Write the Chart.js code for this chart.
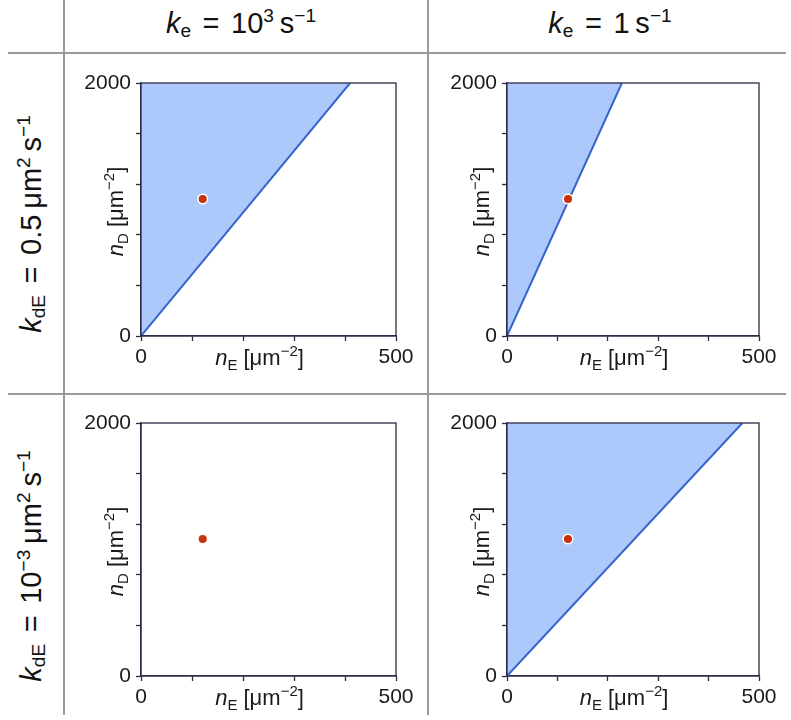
<!DOCTYPE html>
<html>
<head>
<meta charset="utf-8">
<script src="https://cdn.jsdelivr.net/npm/chart.js@4/dist/chart.umd.min.js"></script>
<style>
  html, body { margin: 0; padding: 0; background: #fff; }
  body { width: 791px; height: 720px; position: relative; overflow: hidden; font-family: "Liberation Sans", Arial, sans-serif; }
  .hl { position: absolute; height: 2px; background: #9a9a9a; }
  .vl { position: absolute; width: 2px; background: #9a9a9a; }
  .panel { position: absolute; }
  .hdr { position: absolute; font-size: 29px; color: #111; white-space: nowrap; transform: translate(-50%, -50%); }
  .rowt { position: absolute; font-size: 29px; color: #111; white-space: nowrap; transform: translate(-50%, -50%) rotate(-90deg); }
  sub, sup { font-size: 66%; line-height: 0; }
  sub { vertical-align: -0.25em; }
  sup { vertical-align: 0.55em; }
  i { font-style: italic; }
  .eq { padding: 0 0.12em; }
</style>
</head>
<body>
<div class="vl" style="left:63px; top:0px; height:715px;"></div>
<div class="vl" style="left:427px; top:0px; height:715px;"></div>
<div class="hl" style="left:8px; top:52px; width:778px;"></div>
<div class="hl" style="left:8px; top:393px; width:778px;"></div>

<div class="hdr" style="left:241px; top:23px;"><i>k</i><sub>e</sub> <span class="eq">=</span> 10<sup>3</sup>&#8201;s<sup>−1</sup></div>
<div class="hdr" style="left:610px; top:23px;"><i>k</i><sub>e</sub> <span class="eq">=</span> 1&#8201;s<sup>−1</sup></div>
<div class="rowt" style="left:31px; top:224px;"><i>k</i><sub>dE</sub> <span class="eq">=</span> 0.5&#8201;μm<sup>2</sup>&#8201;s<sup>−1</sup></div>
<div class="rowt" style="left:31px; top:566px;"><i>k</i><sub>dE</sub> <span class="eq">=</span> 10<sup>−3</sup>&#8201;μm<sup>2</sup>&#8201;s<sup>−1</sup></div>

<div class="panel" id="p0"><canvas id="c0"></canvas></div>
<div class="panel" id="p1"><canvas id="c1"></canvas></div>
<div class="panel" id="p2"><canvas id="c2"></canvas></div>
<div class="panel" id="p3"><canvas id="c3"></canvas></div>

<script>
// ---- data ----
const panelNames = ["kdE=0.5, ke=1e3", "kdE=0.5, ke=1", "kdE=1e-3, ke=1e3", "kdE=1e-3, ke=1"];
// operating point (n_E, n_D), same in every panel
const pointNE = [121, 121, 121, 121];
const pointND = [1083, 1083, 1083, 1083];
// boundary line from origin to the top edge (n_E where the line reaches n_D = 2000); null = no region
const boundaryStartNE = [0, 0, null, 0];
const boundaryStartND = [0, 0, null, 0];
const boundaryEndNE = [410, 228, null, 467];
const boundaryEndND = [2000, 2000, null, 2000];
// axes
const xMin = 0, xMax = 500, xStep = 100;
const yMin = 0, yMax = 2000, yStep = 400;
const xTickLabels = [0, 500];
const yTickLabels = [0, 2000];

// ---- layout ----
const areas = [
  {L:141, T:83, R:396, B:336},
  {L:507, T:83, R:759, B:336},
  {L:141, T:423, R:396, B:676},
  {L:507, T:423, R:759, B:676}
];
const PADL = 70, PADT = 25, PADR = 30, PADB = 45, WY = 60, HX = 40;

const SPINE = '#2b2b45';
const FONT = '"Liberation Sans", Arial, sans-serif';

function drawRich(ctx, segs, size) {
  let x = 0;
  const parts = segs.map(s => {
    const fs = s.k === 'sub' || s.k === 'sup' ? Math.round(size * 0.7) : size;
    const font = (s.it ? 'italic ' : '') + fs + 'px ' + FONT;
    ctx.font = font;
    const w = ctx.measureText(s.t).width;
    const dy = s.k === 'sub' ? size * 0.22 : (s.k === 'sup' ? -size * 0.42 : 0);
    const p = {t: s.t, font, x, dy};
    x += w;
    return p;
  });
  return {width: x, parts};
}
function renderRich(ctx, rich, x0, y0) {
  rich.parts.forEach(p => {
    ctx.font = p.font;
    ctx.fillText(p.t, x0 + p.x, y0 + p.dy);
  });
}
const xTitle = [{t:'n', it:true}, {t:'E', k:'sub'}, {t:' [μm'}, {t:'−2', k:'sup'}, {t:']'}];
const yTitle = [{t:'n', it:true}, {t:'D', k:'sub'}, {t:' [μm'}, {t:'−2', k:'sup'}, {t:']'}];

const framePlugin = {
  id: 'frameAndTitles',
  afterDraw(chart) {
    const ctx = chart.ctx, a = chart.chartArea;
    ctx.save();
    ctx.strokeStyle = SPINE;
    ctx.lineWidth = 1.3;
    ctx.strokeRect(a.left, a.top, a.right - a.left, a.bottom - a.top);
    ctx.fillStyle = '#1a1a1a';
    ctx.textBaseline = 'alphabetic';
    ctx.textAlign = 'left';
    const rx = drawRich(ctx, xTitle, 22);
    renderRich(ctx, rx, (a.left + a.right) / 2 - 9 - rx.width / 2, a.bottom + 29);
    const ry = drawRich(ctx, yTitle, 22);
    ctx.translate(a.left - 18, (a.top + a.bottom) / 2 + 2);
    ctx.rotate(-Math.PI / 2);
    renderRich(ctx, ry, -ry.width / 2, 0);
    ctx.restore();
  }
};

areas.forEach((ar, i) => {
  const wrap = document.getElementById('p' + i);
  const cw = (ar.R - ar.L) + PADL + PADR;
  const ch = (ar.B - ar.T) + PADT + PADB;
  wrap.style.left = (ar.L - PADL) + 'px';
  wrap.style.top = (ar.T - PADT) + 'px';
  const cv = document.getElementById('c' + i);
  cv.width = cw; cv.height = ch;
  cv.style.width = cw + 'px'; cv.style.height = ch + 'px';

  const datasets = [{
    label: 'operating point',
    data: [{x: pointNE[i], y: pointND[i]}],
    backgroundColor: '#c8320a',
    borderColor: '#ffffff',
    borderWidth: 1.5,
    pointRadius: 4.8,
    order: 0
  }];
  if (boundaryEndNE[i] !== null) {
    datasets.push({
      label: 'boundary',
      data: [{x: boundaryStartNE[i], y: boundaryStartND[i]}, {x: boundaryEndNE[i], y: boundaryEndND[i]}],
      showLine: true,
      borderColor: '#3565cc',
      borderWidth: 2,
      backgroundColor: '#adc8fa',
      fill: 'end',
      pointRadius: 0,
      order: 1
    });
  }

  new Chart(cv, {
    type: 'scatter',
    data: { datasets },
    plugins: [framePlugin],
    options: {
      responsive: false,
      animation: false,
      devicePixelRatio: 1,
      layout: { padding: { left: PADL - WY, top: PADT, right: PADR, bottom: PADB - HX } },
      plugins: { legend: { display: false }, tooltip: { enabled: false } },
      scales: {
        x: {
          type: 'linear', min: xMin, max: xMax,
          afterFit: s => { s.height = HX; },
          border: { color: SPINE, width: 1.3 },
          grid: { drawOnChartArea: false, drawTicks: true, tickLength: 5, tickColor: SPINE, tickWidth: 1.3 },
          ticks: {
            stepSize: xStep, autoSkip: false, maxRotation: 0, padding: 4,
            color: '#1a1a1a', font: { family: FONT, size: 21 },
            callback: v => xTickLabels.includes(v) ? String(v) : ''
          }
        },
        y: {
          type: 'linear', min: yMin, max: yMax,
          afterFit: s => { s.width = WY; },
          border: { color: SPINE, width: 1.3 },
          grid: { drawOnChartArea: false, drawTicks: true, tickLength: 5, tickColor: SPINE, tickWidth: 1.3 },
          ticks: {
            stepSize: yStep, autoSkip: false, padding: 5,
            color: '#1a1a1a', font: { family: FONT, size: 21 },
            callback: v => yTickLabels.includes(v) ? String(v) : ''
          }
        }
      }
    }
  });
});
</script>
</body>
</html>
